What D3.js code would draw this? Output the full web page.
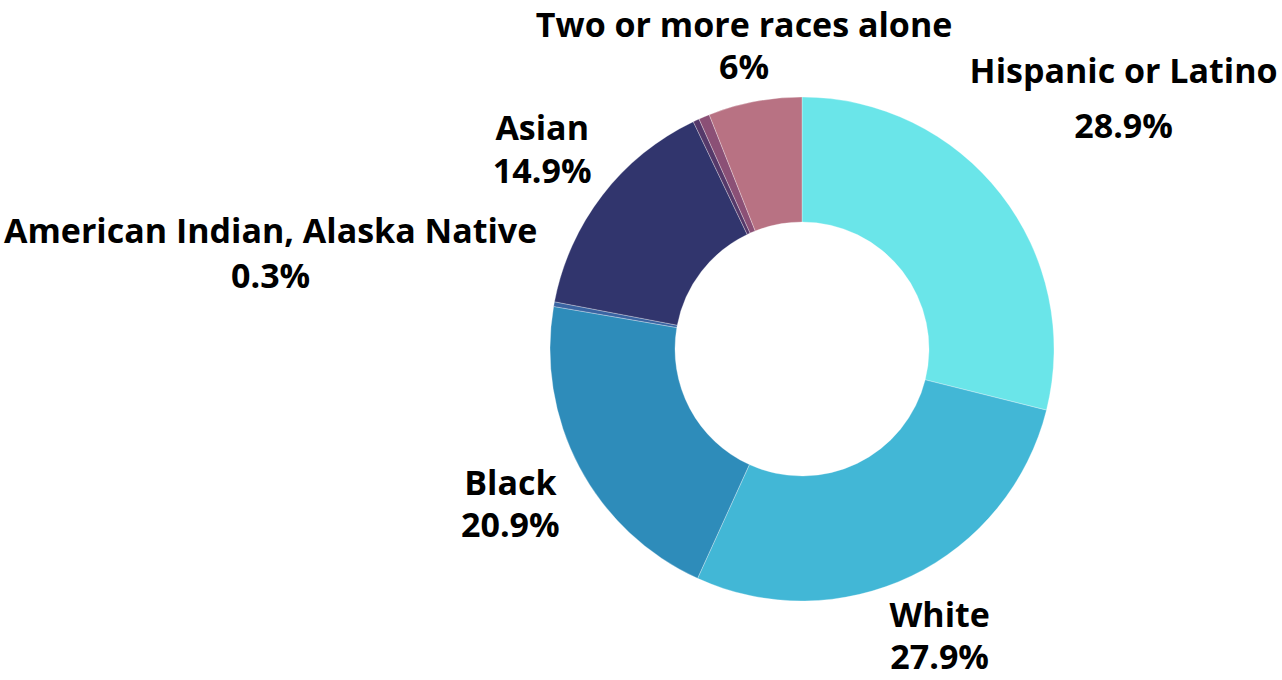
<!DOCTYPE html>
<html>
<head>
<meta charset="utf-8">
<script src="https://cdn.jsdelivr.net/npm/d3@7"></script>
<style>
  html, body { margin: 0; padding: 0; background: #fff; }
  svg { display: block; }
  text { font-family: "Open Sans", sans-serif; font-weight: 700; fill: #000; }
</style>
</head>
<body>
<svg id="chart" width="1282" height="680"></svg>
<script>
// Data
const categories = ["Hispanic or Latino", "White", "Black", "American Indian, Alaska Native", "Asian", "Native Hawaiian, Pacific Islander", "Some other race", "Two or more races alone"];
const values = [28.9, 27.9, 20.9, 0.3, 14.9, 0.4, 0.7, 6];
const showLabel = [true, true, true, true, true, false, false, true];
const colors = ["#6ae5e9", "#42b7d6", "#2e8cba", "#3a64a2", "#31356d", "#55396a", "#8b5076", "#b87283"];

// Layout
const W = 1282, H = 680;
const cx = 802, cy = 349;
const outerR = 252, innerR = 127;
const labelRadius = [408, 317, 330, 540, 328, 0, 0, 309];
const lineGap = [55, 42, 42, 45, 43, 0, 0, 42];

const svg = d3.select("#chart");
const g = svg.append("g").attr("transform", `translate(${cx},${cy})`);

const pie = d3.pie().sort(null).value(d => d.value);
const data = categories.map((c, i) => ({ name: c, value: values[i], i }));
const arcs = pie(data);
const arc = d3.arc().innerRadius(innerR).outerRadius(outerR);

g.selectAll("path.slice")
  .data(arcs)
  .join("path")
  .attr("class", "slice")
  .attr("d", arc)
  .attr("fill", d => colors[d.data.i])
  .attr("stroke", "#fff")
  .attr("stroke-width", 0.6)
  .attr("stroke-opacity", 0.5);

const labels = g.selectAll("g.lbl")
  .data(arcs.filter(d => showLabel[d.data.i]))
  .join("g")
  .attr("class", "lbl")
  .attr("transform", d => {
    const a = (d.startAngle + d.endAngle) / 2;
    const r = labelRadius[d.data.i];
    return `translate(${r * Math.sin(a)},${-r * Math.cos(a)})`;
  });

labels.append("text")
  .attr("text-anchor", "middle")
  .attr("dominant-baseline", "central")
  .attr("y", d => -lineGap[d.data.i] / 2)
  .style("font-size", "34px")
  .text(d => d.data.name);

labels.append("text")
  .attr("text-anchor", "middle")
  .attr("dominant-baseline", "central")
  .attr("y", d => lineGap[d.data.i] / 2)
  .style("font-size", "34px")
  .text(d => d3.format("~")(d.data.value) + "%");
</script>
</body>
</html>
